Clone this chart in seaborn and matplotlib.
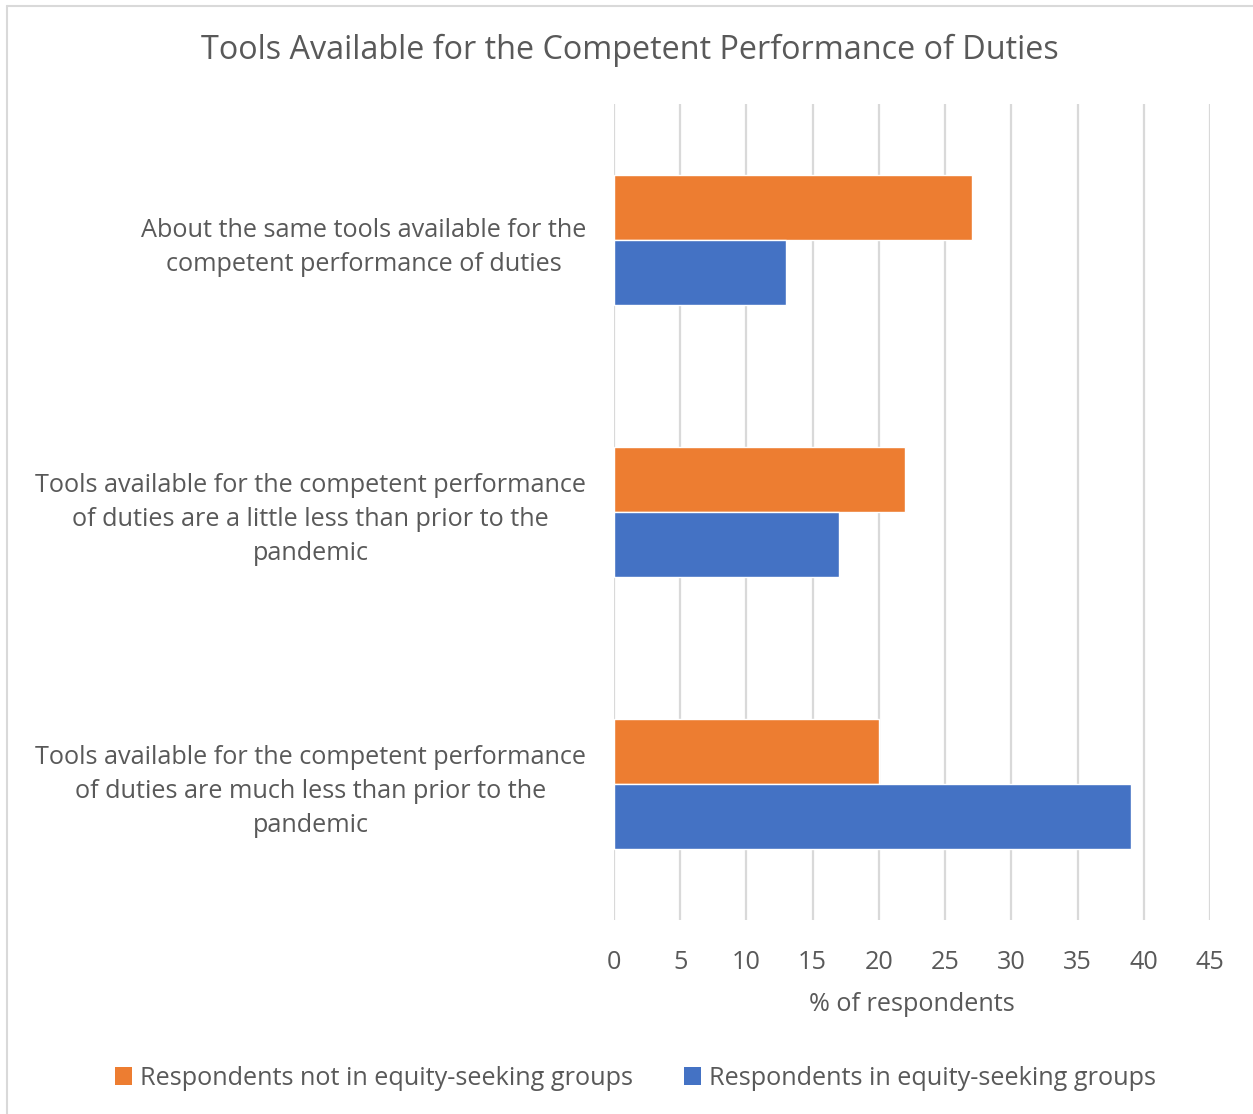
import matplotlib
matplotlib.use("Agg")
import matplotlib.pyplot as plt
from matplotlib.lines import Line2D
from matplotlib.patches import Patch
import seaborn as sns
import pandas as pd

# Survey responses (% of respondents)
categories = [
    "About the same tools available for the\ncompetent performance of duties",
    "Tools available for the competent performance\nof duties are a little less than prior to the\npandemic",
    "Tools available for the competent performance\nof duties are much less than prior to the\npandemic",
]
series_names = [
    "Respondents not in equity-seeking groups",
    "Respondents in equity-seeking groups",
]
not_equity_values = [27, 22, 20]
equity_values = [13, 17, 39]
x_ticks = [0, 5, 10, 15, 20, 25, 30, 35, 40, 45]

colors = {series_names[0]: "#ED7D31", series_names[1]: "#4472C4"}

df = pd.DataFrame({
    "category": categories * 2,
    "group": [series_names[0]] * 3 + [series_names[1]] * 3,
    "value": not_equity_values + equity_values,
})

sns.set_theme(style="white")
plt.rcParams["font.family"] = ["Open Sans", "DejaVu Sans"]
text_color = "#595959"
fs = 18.2

fig = plt.figure(figsize=(12.53, 11.14), dpi=100)
ax = fig.add_axes([0.49, 0.174, 0.4757, 0.733])

sns.barplot(
    data=df, y="category", x="value", hue="group",
    order=categories, hue_order=series_names, palette=colors,
    orient="h", width=0.478, gap=0, saturation=1, legend=False, ax=ax,
)

ax.set_xlim(0, 45)
ax.set_xticks(x_ticks)
ax.set_xticklabels([str(t) for t in x_ticks])
ax.grid(axis="x", color="#D9D9D9", linewidth=1.6)
ax.grid(axis="y", visible=False)
ax.set_axisbelow(True)
for s in ax.spines.values():
    s.set_visible(False)
ax.tick_params(axis="both", length=0, colors=text_color, labelsize=fs)
ax.tick_params(axis="y", pad=20)
ax.tick_params(axis="x", pad=21.5)
for lbl in ax.get_yticklabels():
    lbl.set_multialignment("center")
    lbl.set_linespacing(1.48)

ax.set_ylabel("")
ax.set_xlabel("% of respondents", color=text_color, fontsize=fs, labelpad=12.5)

fig.suptitle("Tools Available for the Competent Performance of Duties",
             x=0.503, y=0.955, va="center", color=text_color, fontsize=23.3)

handles = [Patch(facecolor=colors[n], edgecolor="none") for n in series_names]
fig.legend(handles, series_names, loc="center", bbox_to_anchor=(0.507, 0.032),
           ncol=2, frameon=False, fontsize=fs, labelcolor=text_color,
           handlelength=0.7, handleheight=0.7, handletextpad=0.3,
           columnspacing=2.0)

# Chart-area border (left and top edges)
fig.add_artist(Line2D([7 / 1253, 7 / 1253], [0, 1 - 6 / 1114],
                      transform=fig.transFigure, color="#D9D9D9", linewidth=1.5))
fig.add_artist(Line2D([7 / 1253, 1], [1 - 6 / 1114, 1 - 6 / 1114],
                      transform=fig.transFigure, color="#D9D9D9", linewidth=1.5))

fig.savefig("out.png", dpi=100, facecolor="white")
